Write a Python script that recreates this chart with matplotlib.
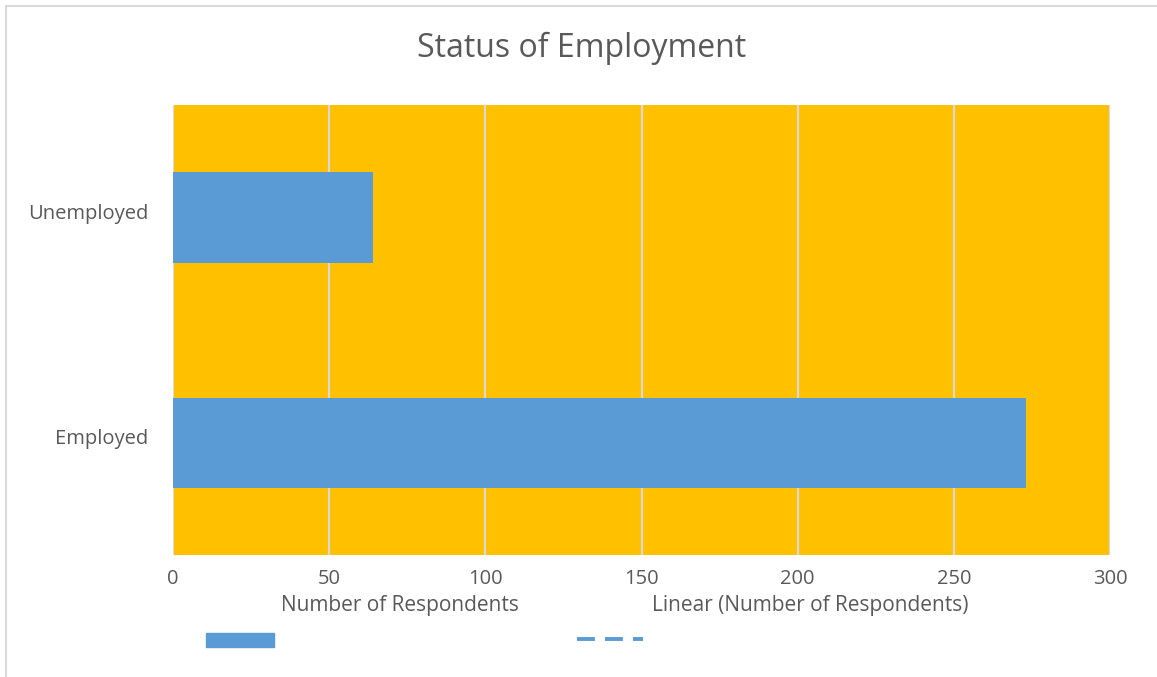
import matplotlib.pyplot as plt
import matplotlib.transforms as mtransforms
from matplotlib.patches import Rectangle
from matplotlib.lines import Line2D

categories = ['Employed', 'Unemployed']
respondents = [273, 64]
xticks = [0, 50, 100, 150, 200, 250, 300]

plt.rcParams['font.family'] = ['Open Sans', 'DejaVu Sans']
text_col = '#595959'

fig = plt.figure(figsize=(11.57, 6.77), dpi=100)
ax = fig.add_axes([173/1157, 122/677, 937/1157, 450/677])
ax.set_facecolor('#FFC000')

ax.barh(categories, respondents, height=0.4, color='#5B9BD5', zorder=3)
ax.set_xlim(0, 300)
ax.set_ylim(-0.5, 1.5)
ax.set_xticks(xticks)
ax.xaxis.grid(True, color='#D9D9D9', linewidth=1.6, zorder=1)
ax.set_axisbelow(True)
for s in ax.spines.values():
    s.set_visible(False)
ax.tick_params(length=0, labelsize=14.5, labelcolor=text_col)
ax.tick_params(axis='x', pad=10)
ax.tick_params(axis='y', pad=18)
# category labels sit a little above the bar centre
lift = mtransforms.ScaledTranslation(0, 6/100, fig.dpi_scale_trans)
for lbl in ax.get_yticklabels():
    lbl.set_transform(lbl.get_transform() + lift)

fig.text(0.503, 1 - 48/677, 'Status of Employment', ha='center', va='center',
         fontsize=23, color=text_col)

# legend laid out under the axis: labels on top, swatches below
fig.text(400/1157, 1 - 605/677, 'Number of Respondents', ha='center', va='center',
         fontsize=15, color=text_col)
fig.text(810/1157, 1 - 605/677, 'Linear (Number of Respondents)', ha='center',
         va='center', fontsize=15, color=text_col)
fig.patches.append(Rectangle((206/1157, 1 - 647/677), 68/1157, 14/677,
                             transform=fig.transFigure, color='#5B9BD5'))
fig.lines.append(Line2D([577/1157, 643/1157], [1 - 639/677, 1 - 639/677],
                        transform=fig.transFigure, color='#5B9BD5',
                        linewidth=2.8, linestyle=(0, (4.6, 2.6))))

# chart frame, top and left edges
fig.lines.append(Line2D([6/1157, 6/1157], [0, 1 - 6/677], transform=fig.transFigure,
                        color='#D9D9D9', linewidth=1.5))
fig.lines.append(Line2D([6/1157, 1], [1 - 6/677, 1 - 6/677], transform=fig.transFigure,
                        color='#D9D9D9', linewidth=1.5))

fig.savefig('out.png', dpi=100)
